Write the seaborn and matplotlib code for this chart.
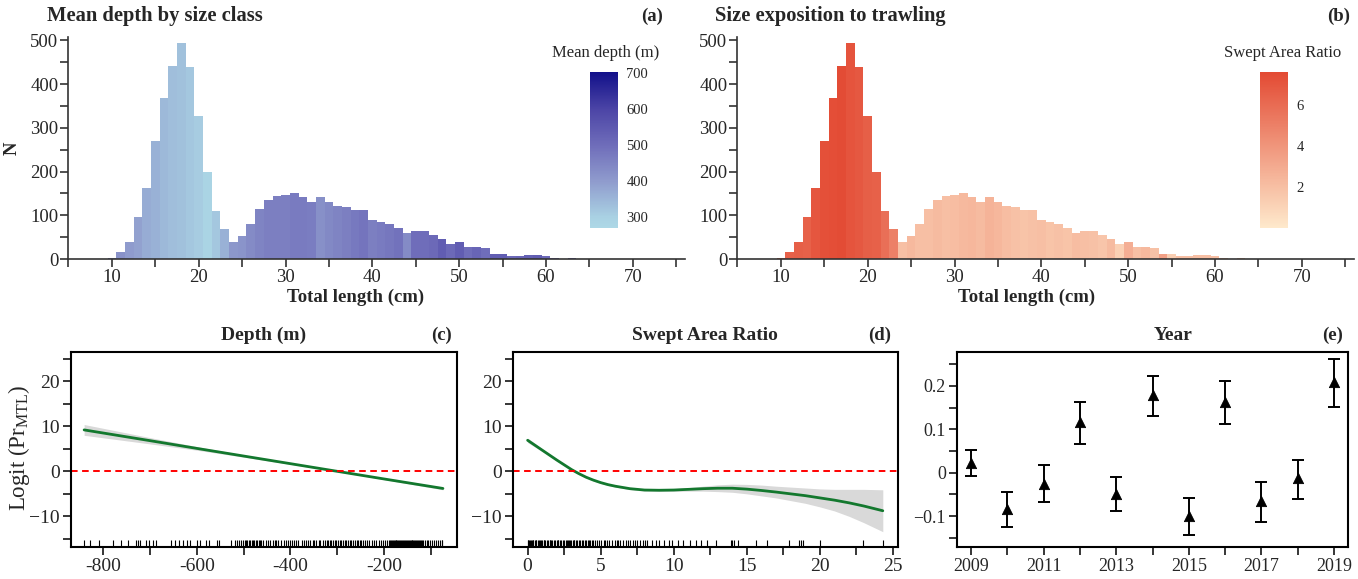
import numpy as np
import pandas as pd
import seaborn as sns
import matplotlib
matplotlib.use("Agg")
from matplotlib import pyplot as plt
from matplotlib.colors import LinearSegmentedColormap, Normalize
from matplotlib.cm import ScalarMappable
from matplotlib.ticker import MultipleLocator, FuncFormatter

# ---- data ----
length_cm = list(range(10, 69))
count_n = [3, 15, 39, 96, 162, 269, 368, 442, 493, 438, 327, 200, 109, 68, 39,
           53, 80, 114, 134, 144, 146, 152, 142, 130, 142, 130, 121, 118, 113, 112,
           89, 85, 80, 71, 59, 64, 64, 55, 46, 35, 38, 27, 28, 26, 11,
           11, 7, 8, 9, 9, 8, 2, 1, 2, 1, 0, 0, 0, 1]
mean_depth = [450, 420, 400, 390, 370, 360, 345, 335, 330, 320, 310, 290, 320, 360, 410,
              415, 435, 450, 460, 460, 460, 470, 470, 465, 425, 440, 450, 460, 475, 485,
              460, 470, 480, 490, 435, 500, 500, 510, 540, 510, 540, 500, 520, 500, 540,
              540, 510, 520, 530, 540, 510, 500, 480, 500, 480, 480, 480, 480, 500]
swept_ratio = [6.0, 6.5, 6.6, 6.5, 7.0, 7.3, 7.4, 7.5, 7.1, 6.9, 6.6, 6.5, 5.8, 5.0, 2.0,
               2.3, 2.0, 2.0, 2.2, 2.0, 2.1, 2.3, 2.4, 2.2, 2.6, 2.4, 2.1, 1.9, 1.8, 1.9,
               2.0, 1.8, 1.9, 1.8, 2.1, 2.0, 1.9, 1.7, 2.2, 1.2, 2.8, 2.0, 2.3, 1.9, 3.5,
               1.3, 2.0, 2.0, 2.0, 2.0, 2.0, 2.0, 2.0, 2.0, 2.0, 2.0, 2.0, 2.0, 2.0]

depth_x = [-840, -700, -600, -500, -400, -300, -200, -75]
depth_fit = [9.2, 6.82, 5.1, 3.4, 1.7, 0.0, -1.7, -3.8]
depth_lo = [8.0, 6.1, 4.7, 3.15, 1.55, -0.1, -1.85, -4.1]
depth_hi = [10.4, 7.5, 5.5, 3.65, 1.85, 0.1, -1.55, -3.5]
depth_rug = [-840, -827, -808, -779, -762, -747, -729, -725, -720, -708, -702, -694, -686,
             -654, -647, -638, -630, -620, -615, -599, -594, -580, -574, -557, -552, -526,
             -519, -514, -510, -506, -501, -498, -495, -492, -489, -486, -483, -480, -477,
             -474, -471, -468, -465, -462, -458, -452, -447, -443, -438, -433, -430, -426,
             -421, -414, -410, -405, -401, -396, -392, -388, -384, -375, -371, -367, -362,
             -358, -353, -349, -345, -340, -337, -330, -327, -323, -320, -316, -313, -309,
             -306, -302, -299, -295, -292, -288, -284, -281, -277, -274, -270, -266, -263,
             -259, -256, -252, -249, -245, -241, -236, -232, -227, -222, -217, -212, -207,
             -203, -199, -195, -191, -188, -186, -184, -182, -180, -178, -176, -174, -172,
             -170, -168, -166, -164, -162, -160, -158, -156, -154, -152, -150, -148, -146,
             -144, -142, -140, -138, -136, -134, -132, -130, -128, -126, -124, -122, -120,
             -117, -113, -110, -106, -103, -99, -95, -90, -86, -82, -78, -76]

sar_x = [0, 0.5, 1, 1.5, 2, 2.5, 3, 3.5, 4, 4.5, 5, 5.5, 6, 7, 8, 9, 10, 11, 12, 13,
         14, 15, 16, 17, 18, 19, 20, 21, 22, 23, 24.3]
sar_fit = [6.9, 5.8, 4.7, 3.6, 2.5, 1.45, 0.4, -0.5, -1.3, -1.95, -2.5, -2.95, -3.3,
           -3.85, -4.15, -4.2, -4.15, -4.0, -3.85, -3.75, -3.75, -3.95, -4.25, -4.6,
           -5.0, -5.4, -5.9, -6.4, -7.0, -7.7, -8.75]
sar_lo = [6.4, 5.4, 4.4, 3.35, 2.3, 1.25, 0.2, -0.7, -1.5, -2.15, -2.7, -3.15, -3.5,
          -4.05, -4.4, -4.45, -4.45, -4.4, -4.4, -4.5, -4.65, -5.0, -5.45, -5.9, -6.5,
          -7.1, -7.9, -8.8, -10.0, -11.4, -13.4]
sar_hi = [7.4, 6.2, 5.0, 3.85, 2.7, 1.65, 0.6, -0.3, -1.1, -1.75, -2.3, -2.75, -3.1,
          -3.65, -3.9, -3.95, -3.85, -3.6, -3.3, -3.0, -2.85, -2.9, -3.05, -3.3, -3.5,
          -3.7, -3.9, -4.0, -4.0, -4.0, -4.1]
sar_rug = [0.0, 0.05, 0.1, 0.15, 0.2, 0.3, 0.35, 0.4, 0.5, 0.55, 0.6, 0.7, 0.8, 0.85,
           0.9, 1.0, 1.1, 1.15, 1.2, 1.3, 1.4, 1.5, 1.55, 1.6, 1.7, 1.8, 1.9, 2.0, 2.05,
           2.1, 2.2, 2.3, 2.4, 2.5, 2.6, 2.7, 2.75, 2.8, 2.9, 3.0, 3.1, 3.15, 3.2, 3.3,
           3.4, 3.5, 3.6, 3.7, 3.8, 3.9, 4.0, 4.1, 4.2, 4.3, 4.4, 4.5, 4.6, 4.75, 4.9,
           5.05, 5.2, 5.3, 5.45, 5.6, 5.8, 5.95, 6.1, 6.2, 6.35, 6.5, 6.7, 6.85, 7.0,
           7.2, 7.35, 7.5, 7.7, 7.9, 8.05, 8.2, 8.5, 8.8, 9.0, 9.3, 9.7, 9.9, 10.3,
           10.6, 11.1, 11.5, 11.85, 12.3, 12.9, 13.9, 14.0, 14.1, 14.4, 15.6, 16.4,
           17.9, 18.6, 18.7, 18.85, 20.0, 22.95, 24.3]

years = [2009, 2010, 2011, 2012, 2013, 2014, 2015, 2016, 2017, 2018, 2019]
year_est = [0.023, -0.083, -0.025, 0.116, -0.048, 0.179, -0.100, 0.162, -0.066, -0.013, 0.208]
year_lo = [-0.007, -0.126, -0.068, 0.066, -0.089, 0.131, -0.143, 0.112, -0.113, -0.060, 0.151]
year_hi = [0.052, -0.044, 0.018, 0.163, -0.009, 0.223, -0.059, 0.212, -0.022, 0.030, 0.261]

# ---- style ----
sns.set_theme(style="ticks")
plt.rcParams["font.family"] = ["Liberation Serif", "DejaVu Serif"]
plt.rcParams["mathtext.fontset"] = "custom"
plt.rcParams["mathtext.rm"] = "Liberation Serif"
plt.rcParams["mathtext.it"] = "Liberation Serif:italic"

W, H = 1358, 579
fig = plt.figure(figsize=(W / 100, H / 100), dpi=100)


def box(l, t, r, b):
    return [l / W, 1 - b / H, (r - l) / W, (b - t) / H]


depth_cmap = LinearSegmentedColormap.from_list(
    "depth", [(0.0, "#ADD8E6"), (0.069, "#A9D1E3"), (0.30, "#8F9BCD"),
              (0.53, "#6F6DBA"), (0.76, "#4C45A6"), (1.0, "#12108A")])
depth_norm = Normalize(270, 704)
sar_cmap = LinearSegmentedColormap.from_list("sar", ["#FEE9CC", "#E34A33"])
sar_norm = Normalize(0, 7.6)

hist_df = pd.DataFrame({"length": length_cm, "n": count_n})
TITLE_FS = 14.8


def hist_panel(ax, values, cmap, norm):
    sns.histplot(data=hist_df, x="length", weights="n", binwidth=1,
                 binrange=(9.5, 68.5), ax=ax, linewidth=0, alpha=1)
    for patch, v in zip(ax.patches, values):
        patch.set_facecolor(cmap(norm(v)))
        patch.set_edgecolor("none")
    ax.set_xlim(4.95, 76)
    ax.set_ylim(0, 510)
    ax.xaxis.set_major_locator(MultipleLocator(10))
    ax.xaxis.set_minor_locator(MultipleLocator(5))
    ax.yaxis.set_major_locator(MultipleLocator(100))
    ax.yaxis.set_minor_locator(MultipleLocator(50))
    ax.tick_params(which="both", length=6, width=1.2, color="#333333",
                   labelsize=13.5, direction="out", pad=1)
    ax.set_xlabel("")
    ax.set_ylabel("")
    for s in ["top", "right"]:
        ax.spines[s].set_visible(False)
    for s in ["left", "bottom"]:
        ax.spines[s].set_linewidth(1.2)
        ax.spines[s].set_color("#333333")
    ax.spines["left"].set_bounds(0, 508)


def add_cbar(rect, cmap, norm, ticks):
    cax = fig.add_axes(rect)
    cb = fig.colorbar(ScalarMappable(norm=norm, cmap=cmap), cax=cax, ticks=ticks)
    cb.outline.set_visible(False)
    cax.tick_params(left=True, right=True, length=5, width=1, color="white",
                    direction="in", labelsize=10.5, pad=6)
    return cb


# panel a
ax_a = fig.add_axes(box(68, 36, 685, 259))
hist_panel(ax_a, mean_depth, depth_cmap, depth_norm)
add_cbar(box(590, 72, 618, 228), depth_cmap, depth_norm, [300, 400, 500, 600, 700])
fig.text(606 / W, 1 - 53 / H, "Mean depth (m)", ha="center", va="center", fontsize=12)
fig.text(47 / W, 1 - 16 / H, "Mean depth by size class", ha="left", va="center",
         fontsize=TITLE_FS, fontweight="bold")
fig.text(663 / W, 1 - 16 / H, "(a)", ha="right", va="center", fontsize=13.5,
         fontweight="bold")
fig.text(356 / W, 1 - 297 / H, "Total length (cm)", ha="center", va="center",
         fontsize=13.5, fontweight="bold")
fig.text(12 / W, 1 - 148 / H, "N", ha="center", va="center", rotation=90,
         fontsize=13.5, fontweight="bold")

# panel b
ax_b = fig.add_axes(box(737, 36, 1354, 259))
hist_panel(ax_b, swept_ratio, sar_cmap, sar_norm)
add_cbar(box(1260, 72, 1288, 228), sar_cmap, sar_norm, [2, 4, 6])
fig.text(1283 / W, 1 - 53 / H, "Swept Area Ratio", ha="center", va="center", fontsize=12)
fig.text(715 / W, 1 - 16 / H, "Size exposition to trawling", ha="left", va="center",
         fontsize=TITLE_FS, fontweight="bold")
fig.text(1350 / W, 1 - 16 / H, "(b)", ha="right", va="center", fontsize=13.5,
         fontweight="bold")
fig.text(1027 / W, 1 - 297 / H, "Total length (cm)", ha="center", va="center",
         fontsize=13.5, fontweight="bold")


def smooth_panel(ax, x, fit, lo, hi, rug, xlim):
    ax.fill_between(x, lo, hi, color="#D9D9D9", linewidth=0)
    sns.lineplot(x=x, y=fit, ax=ax, color="#13782E", linewidth=2)
    ax.axhline(0, color="red", linestyle=(0, (3.4, 2.3)), linewidth=1.4)
    sns.rugplot(x=rug, ax=ax, height=0.037, color="black", linewidth=0.8,
                expand_margins=False)
    ax.set_xlim(*xlim)
    ax.set_ylim(-16.8, 26.5)
    ax.yaxis.set_major_locator(MultipleLocator(10))
    ax.yaxis.set_minor_locator(MultipleLocator(5))


def box_style(ax, labelsize):
    for s in ax.spines.values():
        s.set_linewidth(1.5)
        s.set_color("black")
    ax.tick_params(which="both", length=6, width=1.1, color="black",
                   labelsize=labelsize, direction="out", pad=2)
    ax.set_xlabel("")
    ax.set_ylabel("")


# panel c
ax_c = fig.add_axes(box(71, 352, 457, 547))
smooth_panel(ax_c, depth_x, depth_fit, depth_lo, depth_hi, depth_rug, (-868, -45))
ax_c.xaxis.set_major_locator(MultipleLocator(200))
ax_c.xaxis.set_minor_locator(MultipleLocator(100))
ax_c.xaxis.set_major_formatter(FuncFormatter(lambda v, p: f"{v:.0f}"))
box_style(ax_c, 14)
fig.text(264 / W, 1 - 335 / H, "Depth (m)", ha="center", va="center", fontsize=14,
         fontweight="bold")
fig.text(441 / W, 1 - 335 / H, "(c)", ha="center", va="center", fontsize=13.5,
         fontweight="bold")
fig.text(19 / W, 1 - 448 / H, r"Logit (Pr$_{\mathrm{MTL}}$)", ha="center", va="center",
         rotation=90, fontsize=16.5)

# panel d
ax_d = fig.add_axes(box(513, 352, 898, 547))
smooth_panel(ax_d, sar_x, sar_fit, sar_lo, sar_hi, sar_rug, (-1.0, 25.34))
ax_d.xaxis.set_major_locator(MultipleLocator(5))
ax_d.xaxis.set_minor_locator(MultipleLocator(2.5))
box_style(ax_d, 14)
fig.text(705 / W, 1 - 335 / H, "Swept Area Ratio", ha="center", va="center", fontsize=14,
         fontweight="bold")
fig.text(880 / W, 1 - 335 / H, "(d)", ha="center", va="center", fontsize=13.5,
         fontweight="bold")

# panel e
ax_e = fig.add_axes(box(957, 352, 1348, 547))
est = np.array(year_est)
yerr = [est - np.array(year_lo), np.array(year_hi) - est]
ax_e.errorbar(years, est, yerr=yerr, fmt="none", ecolor="black", elinewidth=1.4,
              capsize=4, capthick=1.4)
sns.scatterplot(x=years, y=year_est, ax=ax_e, marker="^", s=55, color="black",
                edgecolor="black", zorder=3)
ax_e.set_xlim(2008.61, 2019.39)
ax_e.set_ylim(-0.171, 0.278)
ax_e.xaxis.set_major_locator(MultipleLocator(2, offset=1))
ax_e.xaxis.set_minor_locator(MultipleLocator(1))
ax_e.yaxis.set_major_locator(MultipleLocator(0.1))
ax_e.yaxis.set_minor_locator(MultipleLocator(0.05))
ax_e.yaxis.set_major_formatter(FuncFormatter(
    lambda v, p: "0" if abs(v) < 1e-9 else f"{v:.1f}".replace("-", "\u2212")))
box_style(ax_e, 13)
fig.text(1173 / W, 1 - 335 / H, "Year", ha="center", va="center", fontsize=14,
         fontweight="bold")
fig.text(1333 / W, 1 - 335 / H, "(e)", ha="center", va="center", fontsize=13.5,
         fontweight="bold")

fig.savefig("out.png", dpi=100)
